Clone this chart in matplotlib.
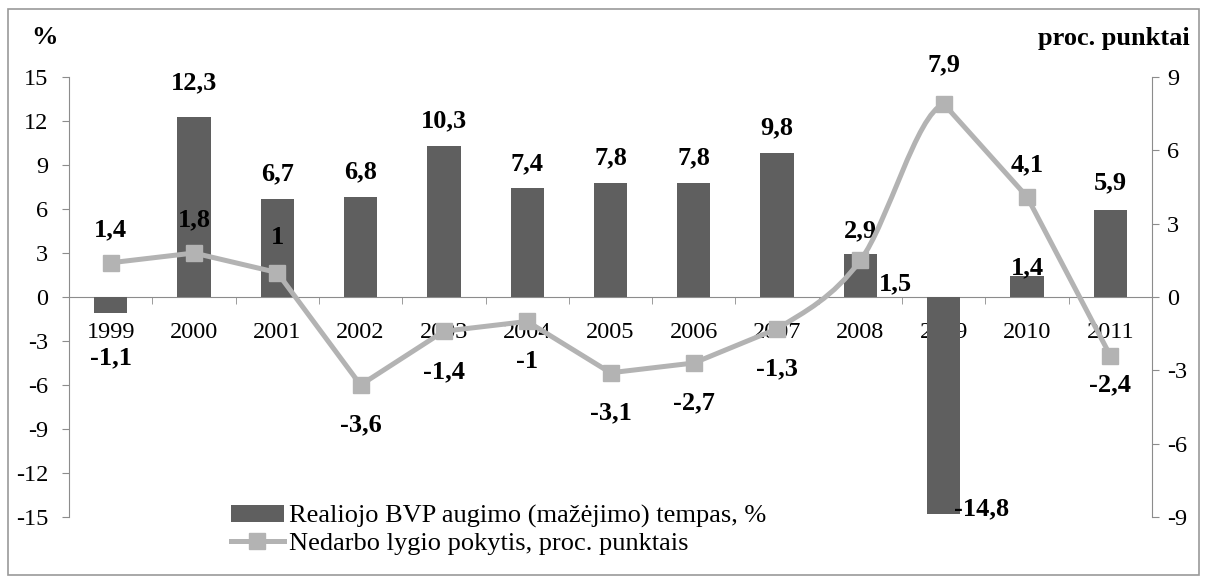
import matplotlib
matplotlib.use("Agg")
import matplotlib.pyplot as plt
from matplotlib.path import Path
from matplotlib.patches import PathPatch, Rectangle, Patch
from matplotlib.lines import Line2D
import numpy as np

plt.rcParams['font.family'] = ['Liberation Serif', 'DejaVu Serif']
plt.rcParams['axes.unicode_minus'] = False

years = ['1999', '2000', '2001', '2002', '2003', '2004', '2005',
         '2006', '2007', '2008', '2009', '2010', '2011']
gdp = [-1.1, 12.3, 6.7, 6.8, 10.3, 7.4, 7.8, 7.8, 9.8, 2.9, -14.8, 1.4, 5.9]
unemp = [1.4, 1.8, 1.0, -3.6, -1.4, -1.0, -3.1, -2.7, -1.3, 1.5, 7.9, 4.1, -2.4]

gdp_name = 'Realiojo BVP augimo (mažėjimo) tempas, %'
unemp_name = 'Nedarbo lygio pokytis, proc. punktais'

# label offsets in points (dx, dy)
gdp_off = [(0, -32), (0, 24), (0, 18), (0, 18), (0, 18), (0, 18), (0, 18),
           (0, 18), (0, 18), (0, 17), (27, 4), (0, 6), (0, 20)]
unemp_off = [(0, 24), (0, 24), (0, 25), (0, -29), (0, -29), (0, -29), (0, -29),
             (0, -29), (0, -29), (25, -17), (0, 28), (0, 23), (0, -21)]

bar_col = '#5f5f5f'
line_col = '#b3b3b3'
axis_col = '#8c8c8c'
tick_fs = 17.5
lab_fs = 19

W, H = 1209, 580
fig = plt.figure(figsize=(W / 100, H / 100), dpi=100)
fig.patches.append(Rectangle((8 / W, 5 / H), 1191 / W, 566 / H, transform=fig.transFigure,
                             fill=False, edgecolor='#999999', lw=1.2))

ax = fig.add_axes([69 / W, (H - 517) / H, (1152 - 69) / W, 440 / H])
ax2 = ax.twinx()

x = np.arange(len(years))
ax.bar(x, gdp, width=0.4, color=bar_col, zorder=2)

ax.set_xlim(-0.5, len(years) - 0.5)
ax.set_ylim(-15, 15)
ax.set_yticks(np.arange(-15, 16, 3))
ax2.set_ylim(-9, 9)
ax2.set_yticks(np.arange(-9, 10, 3))

for s in ['top', 'right']:
    ax.spines[s].set_visible(False)
for s in ['top', 'left', 'bottom']:
    ax2.spines[s].set_visible(False)
ax.spines['bottom'].set_position(('data', 0))
ax.spines['bottom'].set_color(axis_col)
ax.spines['left'].set_color(axis_col)
ax2.spines['right'].set_color(axis_col)
ax.spines['bottom'].set_zorder(1)

ax.set_xticks(x, years)
ax.set_xticks(np.arange(-0.5, len(years), 1), minor=True)
ax.tick_params(axis='x', which='major', length=0, pad=18, labelsize=tick_fs)
ax.tick_params(axis='x', which='minor', length=5, color=axis_col, direction='out')
ax.tick_params(axis='y', length=5, color=axis_col, pad=10, labelsize=tick_fs)
ax2.tick_params(axis='y', length=5, color=axis_col, pad=6, labelsize=tick_fs)

# line: straight segments, smoothed around 2008
pts = np.column_stack([x, unemp]).astype(float)
smooth = {8, 9}
verts = [pts[0]]
codes = [Path.MOVETO]
for i in range(len(pts) - 1):
    if i in smooth:
        c1 = pts[i] + (pts[i + 1] - pts[i - 1]) / 6
        c2 = pts[i + 1] - (pts[i + 2] - pts[i]) / 6
        verts += [c1, c2, pts[i + 1]]
        codes += [Path.CURVE4] * 3
    else:
        verts.append(pts[i + 1])
        codes.append(Path.LINETO)
ax2.add_patch(PathPatch(Path(verts, codes), fill=False, edgecolor=line_col, lw=3.6,
                        capstyle='butt', joinstyle='miter', zorder=3))
ax2.plot(x, unemp, linestyle='none', marker='s', markersize=12, color=line_col, zorder=4)


def fmt(v):
    return f'{v:g}'.replace('.', ',')


for xi, v, off in zip(x, gdp, gdp_off):
    ax.annotate(fmt(v), (xi, v), xytext=off, textcoords='offset points',
                ha='center', va='center', fontsize=lab_fs, fontweight='bold', zorder=5)
for xi, v, off in zip(x, unemp, unemp_off):
    ax2.annotate(fmt(v), (xi, v), xytext=off, textcoords='offset points',
                 ha='center', va='center', fontsize=lab_fs, fontweight='bold', zorder=5)

fig.text(45 / W, 1 - 38 / H, '%', ha='center', va='center', fontsize=lab_fs, fontweight='bold')
fig.text(1190 / W, 1 - 38 / H, 'proc. punktai', ha='right', va='center',
         fontsize=lab_fs, fontweight='bold')

handles = [Patch(facecolor=bar_col, edgecolor='none'),
           Line2D([], [], color=line_col, lw=3.6, marker='s', markersize=12)]
fig.legend(handles, [gdp_name, unemp_name], loc='upper left',
           bbox_to_anchor=(231 / W, 1 - 505 / H), frameon=False, fontsize=lab_fs,
           borderpad=0, borderaxespad=0, handlelength=2.0, handleheight=0.6,
           handletextpad=0.2, labelspacing=0.15)

fig.savefig('out.png', dpi=100)
